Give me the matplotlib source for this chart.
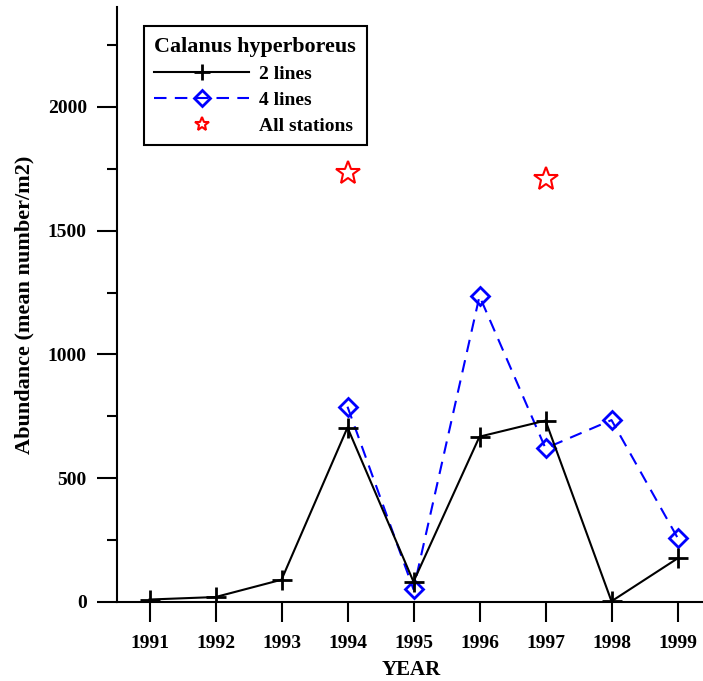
import matplotlib
matplotlib.use("Agg")
from matplotlib import pyplot as plt
from matplotlib import ticker

plt.rcParams['font.family'] = ['Liberation Serif', 'DejaVu Serif']
plt.rcParams['font.weight'] = 'bold'

# yearly abundance, mean number per m2
years = [1991, 1992, 1993, 1994, 1995, 1996, 1997, 1998, 1999]
two_lines = [10, 20, 90, 705, 82, 668, 733, 3, 176]

four_years = [1994, 1995, 1996, 1997, 1998, 1999]
four_lines = [789, 51, 1236, 621, 735, 260]

all_years = [1994, 1997]
all_stations = [1732, 1709]

font_size = 14

fig = plt.figure(figsize=(7.03, 6.81), dpi=100)
ax = fig.add_axes([116.5 / 703, 79 / 681, 594 / 703, 595 / 681])

ax.plot(four_years, four_lines, c='#0000ff', linestyle=(0, (6, 4)), linewidth=1.5,
        marker='D', markersize=9, markerfacecolor='none', markeredgecolor='#0000ff',
        markeredgewidth=2, label='4 lines', zorder=2)
ax.plot(years, two_lines, c='k', linewidth=1.5, marker='+', markersize=15,
        markeredgewidth=2, label='2 lines', zorder=3)
ax.plot(all_years, all_stations, linestyle='none', marker='*', markersize=18,
        markerfacecolor='none', markeredgecolor='#ff0000', markeredgewidth=1.5,
        label='All stations', zorder=4)

ax.set_xlim(1990.5, 1999.5)
ax.set_ylim(0, 2404)
ax.set_xticks(years)
ax.set_yticks([0, 500, 1000, 1500, 2000])
ax.yaxis.set_minor_locator(ticker.MultipleLocator(250))

for side in ('top', 'right'):
    ax.spines[side].set_visible(False)
for side in ('left', 'bottom'):
    ax.spines[side].set_linewidth(1.5)

ax.tick_params(axis='y', which='major', direction='out', length=14.4, width=1.5,
               labelsize=font_size, pad=7)
ax.tick_params(axis='y', which='minor', direction='out', length=7.2, width=1.5)
ax.tick_params(axis='x', which='major', direction='out', length=14.4, width=1.5,
               labelsize=font_size, pad=9)
for lbl in ax.get_xticklabels() + ax.get_yticklabels():
    lbl.set_fontweight('bold')

ax.set_xlabel('YEAR', fontsize=15, fontweight='bold')
ax.set_ylabel('Abundance (mean number/m2)', fontsize=16, fontweight='bold')
ax.xaxis.set_label_coords(0.4958, -0.097)
ax.yaxis.set_label_coords(-0.138, 0.5)

handles, labels = ax.get_legend_handles_labels()
order = [1, 0, 2]
leg = ax.legend([handles[i] for i in order], [labels[i] for i in order],
                title='Calanus hyperboreus', loc='upper left',
                bbox_to_anchor=(27 / 594, 1 - 19 / 595),
                prop={'size': font_size, 'weight': 'bold'},
                title_fontproperties={'size': 15.8, 'weight': 'bold'},
                alignment='left', fancybox=False, framealpha=1,
                edgecolor='k', handlelength=4.9, handletextpad=0.5,
                borderpad=0.55, labelspacing=0.43, borderaxespad=0)
leg.get_frame().set_linewidth(1.5)
leg.legend_handles[0].set_markersize(12)
leg.legend_handles[1].set_markersize(8.5)
leg.legend_handles[2].set_markersize(10)

fig.savefig('out.png', dpi=100)
